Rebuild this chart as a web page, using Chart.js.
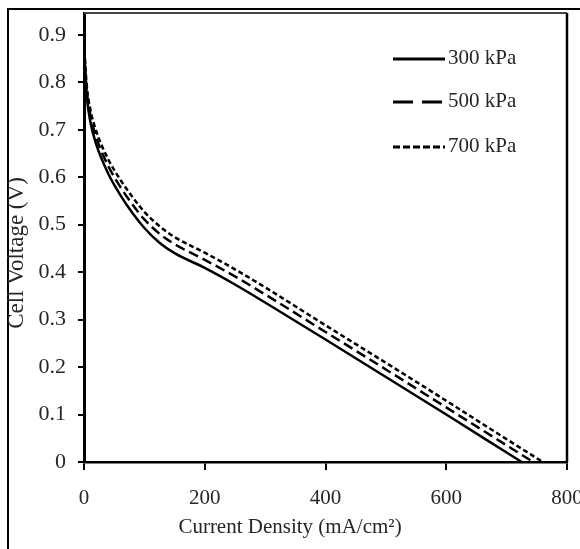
<!DOCTYPE html>
<html>
<head>
<meta charset="utf-8">
<script src="https://cdn.jsdelivr.net/npm/chart.js@4.4.1/dist/chart.umd.min.js"></script>
<style>
  html, body { margin: 0; padding: 0; background: #fff; overflow: hidden; }
  #wrap { position: absolute; left: 0; top: 0; width: 580px; height: 549px; }
</style>
</head>
<body>
<div id="wrap"><canvas id="ivChart" width="580" height="549"></canvas></div>
<script>
const seriesNames = ['300 kPa', '500 kPa', '700 kPa'];

const current300 = [0, 2, 5, 10, 20, 40, 60, 80, 100, 125, 150, 200, 250, 300, 400, 500, 600, 700, 725];
const voltage300 = [0.90, 0.82, 0.765, 0.72, 0.67, 0.608, 0.563, 0.525, 0.493, 0.462, 0.44, 0.409, 0.374, 0.336, 0.258, 0.179, 0.100, 0.020, 0];

const current500 = [0, 2, 5, 10, 20, 40, 60, 80, 100, 125, 150, 200, 250, 300, 400, 500, 600, 700, 744];
const voltage500 = [0.90, 0.83, 0.778, 0.735, 0.685, 0.624, 0.58, 0.543, 0.511, 0.481, 0.459, 0.426, 0.391, 0.353, 0.274, 0.195, 0.115, 0.035, 0];

const current700 = [0, 2, 5, 10, 20, 40, 60, 80, 100, 125, 150, 200, 250, 300, 400, 500, 600, 700, 760];
const voltage700 = [0.90, 0.84, 0.788, 0.746, 0.698, 0.638, 0.595, 0.559, 0.527, 0.497, 0.474, 0.441, 0.406, 0.368, 0.288, 0.209, 0.129, 0.048, 0];

const xTicks = [0, 200, 400, 600, 800];
const yTicks = [0, 0.1, 0.2, 0.3, 0.4, 0.5, 0.6, 0.7, 0.8, 0.9];

const xTitle = 'Current Density (mA/cm²)';
const yTitle = 'Cell Voltage (V)';

const serif = '"Liberation Serif", "Times New Roman", serif';
const textColor = '#262626';

const toPoints = (xs, ys) => xs.map((x, i) => ({ x, y: ys[i] }));

const legendDash = [[], [20, 9], [7, 3]];

// frame, plot box, legend and axis titles
const decorPlugin = {
  id: 'decor',
  afterDraw(chart) {
    const ctx = chart.ctx;
    const a = chart.chartArea;
    ctx.save();
    // outer frame (top + left)
    ctx.strokeStyle = '#000';
    ctx.lineWidth = 2;
    ctx.beginPath();
    ctx.moveTo(7, 9); ctx.lineTo(580, 9);
    ctx.moveTo(8, 9); ctx.lineTo(8, 549);
    ctx.stroke();
    // plot box top + right
    ctx.beginPath();
    ctx.strokeStyle = '#444';
    ctx.moveTo(a.left, a.top); ctx.lineTo(a.right, a.top);
    ctx.stroke();
    ctx.beginPath();
    ctx.strokeStyle = '#000';
    ctx.lineWidth = 2.5;
    ctx.moveTo(a.right, a.top); ctx.lineTo(a.right, a.bottom);
    ctx.stroke();

    // legend
    const rows = [59, 102, 147];
    ctx.font = '21px ' + serif;
    ctx.textBaseline = 'middle';
    ctx.textAlign = 'left';
    chart.data.datasets.forEach((ds, i) => {
      ctx.beginPath();
      ctx.setLineDash(legendDash[i]);
      ctx.lineWidth = 3;
      ctx.strokeStyle = '#000';
      ctx.moveTo(393, rows[i]);
      ctx.lineTo(445, rows[i]);
      ctx.stroke();
      ctx.setLineDash([]);
      ctx.fillStyle = textColor;
      ctx.fillText(ds.label, 448, rows[i] - 1);
    });

    // axis titles
    ctx.fillStyle = textColor;
    ctx.font = '21px ' + serif;
    ctx.textAlign = 'center';
    ctx.textBaseline = 'middle';
    ctx.fillText(xTitle, 290, 527);
    ctx.font = '23px ' + serif;
    ctx.translate(17, 253);
    ctx.rotate(-Math.PI / 2);
    ctx.fillText(yTitle, 0, 0);
    ctx.restore();
  }
};

const ctx = document.getElementById('ivChart').getContext('2d');

new Chart(ctx, {
  type: 'line',
  data: {
    datasets: [
      { label: seriesNames[0], data: toPoints(current300, voltage300), borderColor: '#000', borderWidth: 2.5, pointRadius: 0, fill: false, cubicInterpolationMode: 'monotone' },
      { label: seriesNames[1], data: toPoints(current500, voltage500), borderColor: '#000', borderWidth: 2.5, borderDash: [10, 5], pointRadius: 0, fill: false, cubicInterpolationMode: 'monotone' },
      { label: seriesNames[2], data: toPoints(current700, voltage700), borderColor: '#000', borderWidth: 2.5, borderDash: [5, 3], pointRadius: 0, fill: false, cubicInterpolationMode: 'monotone' }
    ]
  },
  options: {
    responsive: false,
    animation: false,
    layout: { padding: { top: 13, right: 13, left: 0, bottom: 0 } },
    plugins: {
      legend: { display: false },
      tooltip: { enabled: false }
    },
    scales: {
      x: {
        type: 'linear',
        min: 0,
        max: 800,
        afterBuildTicks: s => { s.ticks = xTicks.map(v => ({ value: v })); },
        afterFit: s => { s.height = 87; s.paddingLeft = 0; s.paddingRight = 0; },
        ticks: { color: textColor, font: { family: serif, size: 21 }, padding: 16, maxRotation: 0 },
        grid: { drawOnChartArea: false, color: '#000', lineWidth: 2, tickLength: 8 },
        border: { color: '#000', width: 2.5 }
      },
      y: {
        type: 'linear',
        min: 0,
        max: 0.946,
        afterBuildTicks: s => { s.ticks = yTicks.map(v => ({ value: v })); },
        afterFit: s => { s.width = 84; s.paddingTop = 0; s.paddingBottom = 0; },
        ticks: { color: textColor, font: { family: serif, size: 22 }, padding: 12, callback: v => String(Math.round(v * 10) / 10) },
        grid: { drawOnChartArea: false, color: '#000', lineWidth: 2, tickLength: 6 },
        border: { color: '#000', width: 3 }
      }
    }
  },
  plugins: [decorPlugin]
});
</script>
</body>
</html>
